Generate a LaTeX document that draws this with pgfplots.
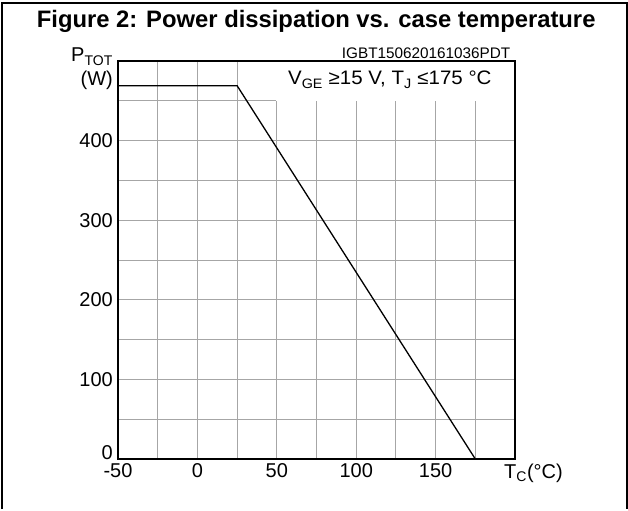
\documentclass[border=0pt]{standalone}
\usepackage{pgfplots}
\pgfplotsset{compat=1.18}
\usepackage{fontspec}
\setmainfont{Liberation Sans}
\usepackage{graphicx}
\begin{document}
\begin{tikzpicture}[x=1pt,y=1pt]
\fill[white] (0,0) rectangle (628,-509);
\draw[line width=2.4pt] (2.2,-509) -- (2.2,-3.3) -- (626.8,-3.3) -- (626.8,-509);
\begin{axis}[
  at={(118pt,-459pt)}, anchor=south west,
  scale only axis, width=397pt, height=398pt,
  xmin=-50, xmax=200, ymin=0, ymax=500,
  xtick={-50,0,50,100,150},
  minor xtick={-25,25,75,125,175},
  ytick={0,100,200,300,400},
  yticklabels={\raisebox{6.5pt}[\height][\depth]{0},100,200,300,400},
  minor ytick={50,150,250,350,450},
  grid=both,
  major grid style={black!35, line width=1pt},
  minor grid style={black!35, line width=1pt},
  major tick length=0pt, minor tick length=0pt,
  axis line style={black, line width=1.2pt},
  tick label style={font=\fontsize{20}{20}\selectfont, inner sep=0pt},
  xticklabel style={yshift=-4pt},
  yticklabel style={xshift=-5pt},
  /pgf/number format/assume math mode=true,
  clip=false,
]
\fill[white] (axis cs:49.5,449.3) rectangle (axis cs:200,500);
\draw[black, line width=1.2pt] (axis cs:-50,0) rectangle (axis cs:200,500);
\addplot[black, line width=1.3pt] coordinates {(-50,469) (25,469) (175,0)};
\end{axis}
\node[anchor=base west, inner sep=0] at (36.7,-27.3) {\fontsize{23.8}{24}\selectfont\bfseries Figure 2: Power dissipation vs. case temperature};
\node[anchor=base east, inner sep=0] at (510.5,-59) {\fontsize{15.3}{15}\selectfont IGBT150620161036PDT};
\node[anchor=base east, inner sep=0] at (491.7,-85) {\scalebox{1.05}[1]{\fontsize{19.5}{19}\selectfont V\textsubscript{GE} ≥15 V, T\textsubscript{J} ≤175 °C}};
\node[anchor=base east, inner sep=0] at (113,-62) {\fontsize{20}{20}\selectfont P\textsubscript{TOT}};
\node[anchor=base east, inner sep=0] at (113,-86) {\fontsize{20}{20}\selectfont (W)};
\node[anchor=base west, inner sep=0] at (504,-478) {\fontsize{20}{20}\selectfont T\textsubscript{C}(°C)};
\end{tikzpicture}
\end{document}
